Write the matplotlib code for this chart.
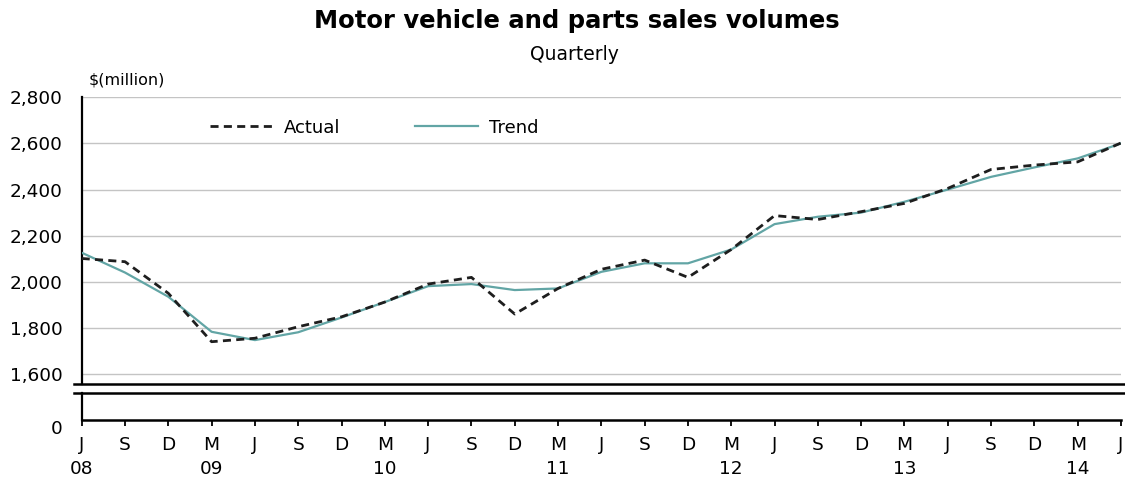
import matplotlib
matplotlib.use('Agg')
import matplotlib.pyplot as plt
from matplotlib.lines import Line2D
import matplotlib.transforms as mtransforms

plt.rcParams['font.family'] = ['DejaVu Sans']

# ---- data ----
quarter_months = ['J', 'S', 'D', 'M'] * 6 + ['J']
year_labels = {0: '08', 3: '09', 7: '10', 11: '11', 15: '12', 19: '13', 23: '14'}
actual = [2101, 2087, 1950, 1740, 1755, 1805, 1848, 1912, 1990, 2019, 1860, 1971,
          2054, 2094, 2019, 2140, 2287, 2270, 2304, 2340, 2405, 2487, 2506, 2520, 2602]
trend = [2126, 2040, 1935, 1783, 1747, 1781, 1845, 1912, 1981, 1990, 1964, 1971,
         2043, 2080, 2080, 2140, 2250, 2282, 2300, 2347, 2400, 2455, 2496, 2535, 2600]
y_ticks = [1600, 1800, 2000, 2200, 2400, 2600, 2800]

W, H = 1125, 483
fig = plt.figure(figsize=(W / 100, H / 100), dpi=100)

FS = 13.3
x = list(range(len(actual)))
left, right = 81.7, 1121
ax = fig.add_axes([left / W, 1 - 384 / H, (right - left) / W, (384 - 97.3) / H])
ax_lo = fig.add_axes([left / W, 1 - 420 / H, (right - left) / W, 27 / H])

ACT_STYLE = dict(color='#1e1e1e', lw=2.0, linestyle=(0, (2.9, 1.9)))
TR_STYLE = dict(color='#62a5a5', lw=1.6)

# upper axes
ax.plot(x, trend, label='Trend', zorder=3, **TR_STYLE)
ax.plot(x, actual, label='Actual', zorder=4, **ACT_STYLE)
ax.set_xlim(0, len(actual) - 1)
ax.set_ylim(1556.6, 2800)
ax.set_yticks(y_ticks)
ax.set_yticklabels([f'{v:,}' for v in y_ticks], fontsize=FS)
ax.tick_params(axis='y', length=0, pad=13.7)
ax.set_xticks([])
for v in y_ticks:
    ax.axhline(v, color='#c4c4c4', lw=1.0, zorder=1)
for s in ['top', 'right', 'bottom']:
    ax.spines[s].set_visible(False)
ax.spines['left'].set_linewidth(1.6)

handles = [Line2D([], [], **ACT_STYLE), Line2D([], [], **TR_STYLE)]
leg = ax.legend(handles, ['Actual', 'Trend'], ncol=2, loc='center left', frameon=False,
                bbox_to_anchor=(210 / W, 1 - 127.7 / H), bbox_transform=fig.transFigure,
                borderpad=0, borderaxespad=0, handlelength=3.5, handletextpad=0.6,
                columnspacing=4.1, fontsize=13)

fig.text(89 / W, 1 - 80 / H, '$(million)', fontsize=11.5, ha='left', va='center')

# lower axes
ax_lo.set_xlim(0, len(actual) - 1)
ax_lo.set_ylim(0, 1)
ax_lo.set_yticks([0])
ax_lo.set_yticklabels(['0'], fontsize=FS)
ax_lo.tick_params(axis='y', length=0, pad=13.7)
off = mtransforms.ScaledTranslation(0, -7 / 100, fig.dpi_scale_trans)
for lab in ax_lo.get_yticklabels():
    lab.set_transform(lab.get_transform() + off)
labels = [m + ('\n' + year_labels[i] if i in year_labels else '') for i, m in enumerate(quarter_months)]
ax_lo.set_xticks(x)
ax_lo.set_xticklabels(labels, fontsize=FS, linespacing=1.4, va='top')
ax_lo.tick_params(axis='x', length=4.5, width=1.3, pad=7, direction='out')
for s in ['top', 'right']:
    ax_lo.spines[s].set_visible(False)
ax_lo.spines['bottom'].set_linewidth(1.8)
ax_lo.spines['left'].set_linewidth(1.6)

# axis break lines
for yy in (384, 393.3):
    fig.add_artist(Line2D([74 / W, 1.0], [1 - yy / H, 1 - yy / H], color='black', lw=1.8,
                          transform=fig.transFigure))

fig.text(577 / W, 1 - 21 / H, 'Motor vehicle and parts sales volumes', fontsize=17.5,
         fontweight='bold', ha='center', va='center')
fig.text(574 / W, 1 - 55 / H, 'Quarterly', fontsize=13.5, ha='center', va='center')

fig.savefig('out.png', dpi=100)
